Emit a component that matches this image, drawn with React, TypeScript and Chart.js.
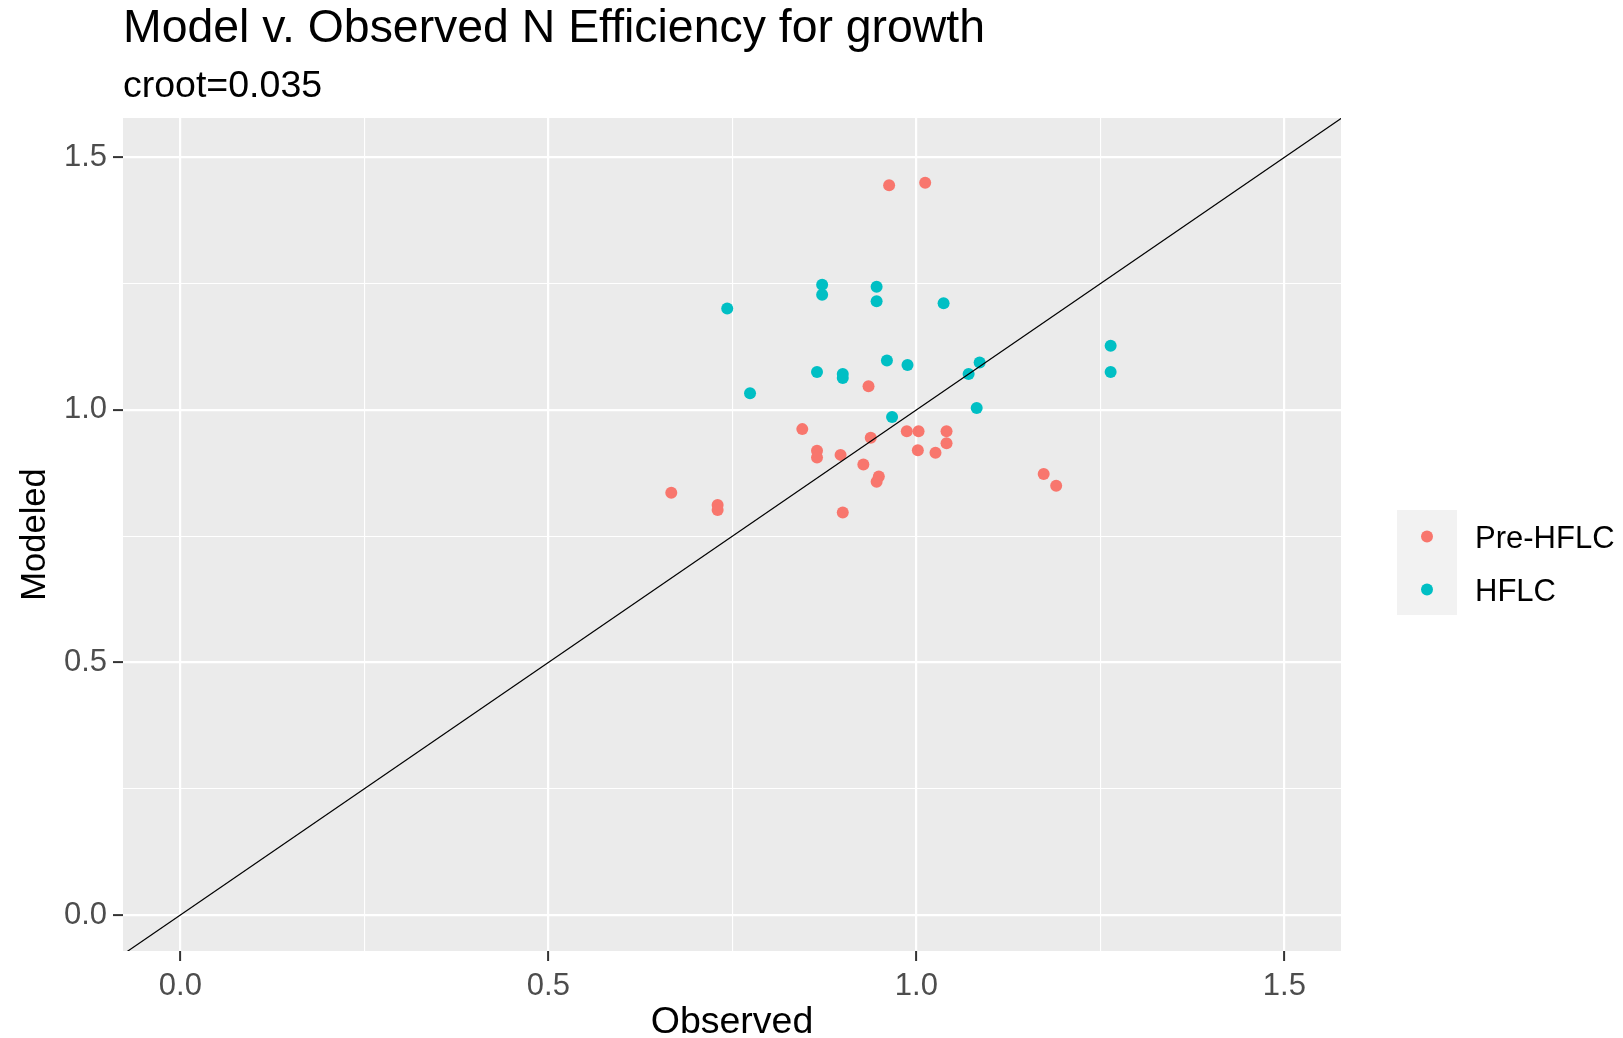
import { useEffect, useRef } from "react";
import { Chart, registerables } from "chart.js";

Chart.register(...registerables);

const categories = ["Pre-HFLC", "HFLC"];
const seriesColors = ["#F8766D", "#00BFC4"];

const preObserved = [0.963, 1.012, 0.935, 0.845, 0.938, 0.865, 0.865, 0.897, 0.928, 0.949, 0.946, 0.667, 0.730, 0.730, 0.900, 0.987, 1.003, 1.041, 1.041, 1.002, 1.026, 1.173, 1.190];
const preModeled = [1.445, 1.450, 1.047, 0.962, 0.945, 0.919, 0.906, 0.911, 0.892, 0.868, 0.858, 0.836, 0.812, 0.802, 0.797, 0.958, 0.958, 0.958, 0.934, 0.920, 0.915, 0.873, 0.850];

const hflcObserved = [0.743, 0.872, 0.872, 0.946, 0.946, 1.037, 0.960, 0.865, 0.900, 0.900, 0.774, 0.967, 0.988, 1.086, 1.071, 1.264, 1.264, 1.082];
const hflcModeled = [1.201, 1.248, 1.228, 1.244, 1.215, 1.211, 1.098, 1.075, 1.071, 1.063, 1.033, 0.986, 1.089, 1.094, 1.071, 1.127, 1.075, 1.004];

const tickValues = [0, 0.25, 0.5, 0.75, 1, 1.25, 1.5];
const tickLabels = ["0.0", "", "0.5", "", "1.0", "", "1.5"];
const identityLine = [-0.2, 1.8];

const X_MIN = -0.078;
const X_MAX = 1.577;
const Y_MIN = -0.0713;
const Y_MAX = 1.578;

const FONT = "'Liberation Sans', Arial, sans-serif";

const isMajor = (v: number) => Math.abs(v * 2 - Math.round(v * 2)) < 1e-9;

export default function App() {
  const ref = useRef<HTMLCanvasElement | null>(null);

  useEffect(() => {
    document.body.style.margin = "0";
    const canvas = ref.current;
    if (!canvas) return;

    const panelBg = {
      id: "panelBg",
      beforeDraw(chart: any) {
        const { ctx, chartArea } = chart;
        ctx.save();
        ctx.fillStyle = "#EBEBEB";
        ctx.fillRect(chartArea.left, chartArea.top, chartArea.right - chartArea.left, chartArea.bottom - chartArea.top);
        ctx.restore();
      },
    };

    const ggLegend = {
      id: "ggLegend",
      afterDraw(chart: any) {
        const ctx = chart.ctx;
        ctx.save();
        ctx.fillStyle = "#F2F2F2";
        ctx.fillRect(1397, 510, 60, 105);
        const rows = [536.5, 589.5];
        categories.forEach((name, i) => {
          ctx.beginPath();
          ctx.fillStyle = seriesColors[i];
          ctx.arc(1427, rows[i], 6, 0, Math.PI * 2);
          ctx.fill();
          ctx.fillStyle = "#000000";
          ctx.font = `31px ${FONT}`;
          ctx.textAlign = "left";
          ctx.textBaseline = "middle";
          ctx.fillText(name, 1475, rows[i] + 3);
        });
        ctx.restore();
      },
    };

    const gridOpts = {
      color: "#FFFFFF",
      lineWidth: (c: any) => (c.tick && isMajor(c.tick.value) ? 2.2 : 1.1),
      drawTicks: true,
      tickLength: 10,
      tickColor: (c: any) => (c.tick && isMajor(c.tick.value) ? "#333333" : "rgba(0,0,0,0)"),
      tickWidth: 2,
    };

    const chart = new Chart(canvas, {
      type: "scatter",
      data: {
        datasets: [
          {
            type: "line",
            label: "y = x",
            data: identityLine.map((v) => ({ x: v, y: v })),
            borderColor: "#000000",
            borderWidth: 1.2,
            pointRadius: 0,
            fill: false,
            order: 0,
          } as any,
          {
            label: categories[0],
            data: preObserved.map((x, i) => ({ x, y: preModeled[i] })),
            backgroundColor: seriesColors[0],
            borderWidth: 0,
            pointRadius: 6,
            pointHoverRadius: 6,
            order: 2,
          },
          {
            label: categories[1],
            data: hflcObserved.map((x, i) => ({ x, y: hflcModeled[i] })),
            backgroundColor: seriesColors[1],
            borderWidth: 0,
            pointRadius: 6,
            pointHoverRadius: 6,
            order: 1,
          },
        ],
      },
      options: {
        responsive: false,
        animation: false,
        devicePixelRatio: 1,
        events: [],
        layout: { padding: { left: 0, right: 282, top: 0, bottom: 0 } },
        plugins: {
          legend: { display: false },
          tooltip: { enabled: false },
          title: {
            display: true,
            text: "Model v. Observed N Efficiency for growth",
            align: "start",
            fullSize: false,
            color: "#000000",
            font: { family: FONT, size: 46.4, weight: "normal", lineHeight: 1 },
            padding: { top: 6.3, bottom: 0 },
          },
          subtitle: {
            display: true,
            text: "croot=0.035",
            align: "start",
            fullSize: false,
            color: "#000000",
            font: { family: FONT, size: 37.5, weight: "normal", lineHeight: 1 },
            padding: { top: 15.3, bottom: 12.5 },
          },
        },
        scales: {
          x: {
            type: "linear",
            min: X_MIN,
            max: X_MAX,
            afterBuildTicks: (s: any) => {
              s.ticks = tickValues.map((value) => ({ value }));
            },
            afterFit: (s: any) => {
              s.height = 87;
            },
            grid: gridOpts as any,
            border: { display: false },
            ticks: {
              autoSkip: false,
              maxRotation: 0,
              padding: 10,
              color: "#4D4D4D",
              font: { family: FONT, size: 31, lineHeight: 1 },
              callback: (_v: any, i: number) => tickLabels[i],
            },
            title: {
              display: true,
              text: "Observed",
              color: "#000000",
              font: { family: FONT, size: 37.5, lineHeight: 0.8 },
              padding: { top: 0, bottom: 0 },
            },
          },
          y: {
            type: "linear",
            min: Y_MIN,
            max: Y_MAX,
            afterBuildTicks: (s: any) => {
              s.ticks = tickValues.map((value) => ({ value }));
            },
            afterFit: (s: any) => {
              s.width = 123;
            },
            grid: gridOpts as any,
            border: { display: false },
            ticks: {
              autoSkip: false,
              padding: 6,
              color: "#4D4D4D",
              font: { family: FONT, size: 31, lineHeight: 1 },
              callback: (_v: any, i: number) => tickLabels[i],
            },
            title: {
              display: true,
              text: "Modeled",
              color: "#000000",
              font: { family: FONT, size: 34.5, lineHeight: 1 },
              padding: { top: 18, bottom: 0 },
            },
          },
        },
      },
      plugins: [panelBg, ggLegend],
    } as any);

    return () => chart.destroy();
  }, []);

  return <canvas ref={ref} width={1623} height={1038} style={{ display: "block" }} />;
}
